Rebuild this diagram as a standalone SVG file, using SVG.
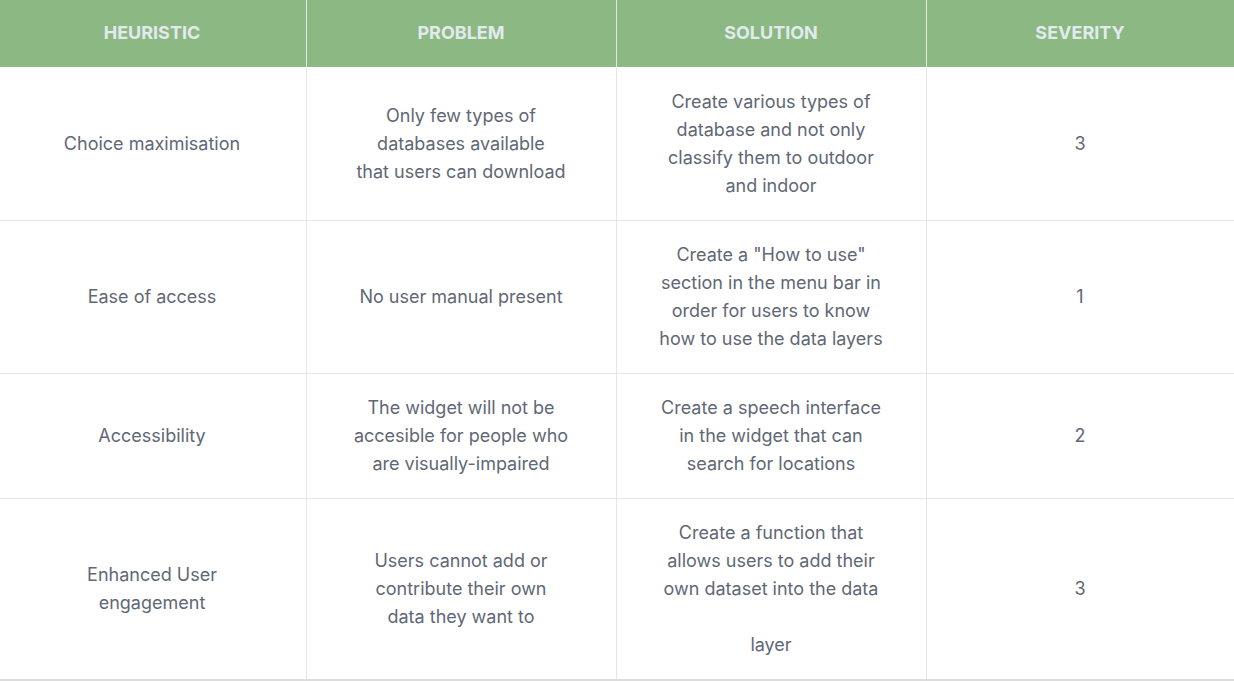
<svg xmlns="http://www.w3.org/2000/svg" width="1234" height="681" viewBox="0 0 1234 681">
<style>
.h{font-family:Inter,"Noto Sans",sans-serif;font-size:18px;font-weight:700;fill:#e2eaee;text-anchor:middle}
.t{font-family:Inter,"Noto Sans",sans-serif;font-size:18px;fill:#5f6875;text-anchor:middle}
.g{stroke:#e6e6e6;stroke-width:1}
</style>
<rect x="0" y="0" width="1234" height="681" fill="#ffffff"/>
<g id="header">
<rect x="0" y="0" width="1234" height="67" fill="#8cb883"/>
<line x1="306.5" y1="0" x2="306.5" y2="67" stroke="#dfe9dc" stroke-width="1"/>
<line x1="616.5" y1="0" x2="616.5" y2="67" stroke="#dfe9dc" stroke-width="1"/>
<line x1="926.5" y1="0" x2="926.5" y2="67" stroke="#dfe9dc" stroke-width="1"/>
<text class="h" x="152" y="38.5">HEURISTIC</text>
<text class="h" x="461" y="38.5">PROBLEM</text>
<text class="h" x="771" y="38.5">SOLUTION</text>
<text class="h" x="1080" y="38.5">SEVERITY</text>
</g>
<g id="grid">
<line class="g" x1="306.5" y1="67" x2="306.5" y2="680"/>
<line class="g" x1="616.5" y1="67" x2="616.5" y2="680"/>
<line class="g" x1="926.5" y1="67" x2="926.5" y2="680"/>
<line class="g" x1="0" y1="220.5" x2="1234" y2="220.5"/>
<line class="g" x1="0" y1="373.5" x2="1234" y2="373.5"/>
<line class="g" x1="0" y1="498.5" x2="1234" y2="498.5"/>
<line x1="0" y1="680" x2="1234" y2="680" stroke="#dcdcdc" stroke-width="2"/>
</g>
<g id="row1">
<text class="t" x="152" y="150">Choice maximisation</text>
<text class="t" x="461" y="122">Only few types of</text>
<text class="t" x="461" y="150">databases available</text>
<text class="t" x="461" y="178">that users can download</text>
<text class="t" x="771" y="108">Create various types of</text>
<text class="t" x="771" y="136">database and not only</text>
<text class="t" x="771" y="164">classify them to outdoor</text>
<text class="t" x="771" y="192">and indoor</text>
<text class="t" x="1080" y="150">3</text>
</g>
<g id="row2">
<text class="t" x="152" y="303">Ease of access</text>
<text class="t" x="461" y="303">No user manual present</text>
<text class="t" x="771" y="261">Create a "How to use"</text>
<text class="t" x="771" y="289">section in the menu bar in</text>
<text class="t" x="771" y="317">order for users to know</text>
<text class="t" x="771" y="345">how to use the data layers</text>
<text class="t" x="1080" y="303">1</text>
</g>
<g id="row3">
<text class="t" x="152" y="442">Accessibility</text>
<text class="t" x="461" y="414">The widget will not be</text>
<text class="t" x="461" y="442">accesible for people who</text>
<text class="t" x="461" y="470">are visually-impaired</text>
<text class="t" x="771" y="414">Create a speech interface</text>
<text class="t" x="771" y="442">in the widget that can</text>
<text class="t" x="771" y="470">search for locations</text>
<text class="t" x="1080" y="442">2</text>
</g>
<g id="row4">
<text class="t" x="152" y="581">Enhanced User</text>
<text class="t" x="152" y="609">engagement</text>
<text class="t" x="461" y="567">Users cannot add or</text>
<text class="t" x="461" y="595">contribute their own</text>
<text class="t" x="461" y="623">data they want to</text>
<text class="t" x="771" y="539">Create a function that</text>
<text class="t" x="771" y="567">allows users to add their</text>
<text class="t" x="771" y="595">own dataset into the data</text>
<text class="t" x="771" y="651">layer</text>
<text class="t" x="1080" y="595">3</text>
</g>
</svg>
